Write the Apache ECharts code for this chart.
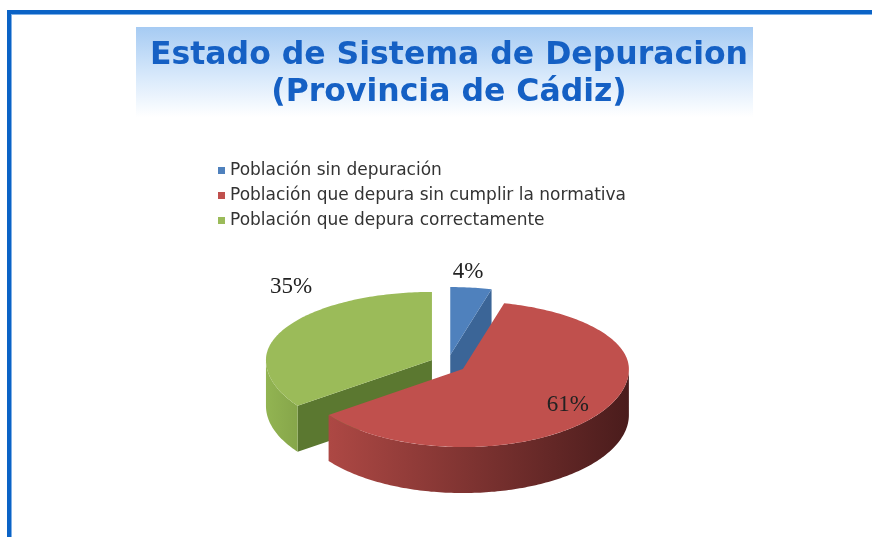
<!DOCTYPE html>
<html>
<head>
<meta charset="utf-8">
<script src="https://cdn.jsdelivr.net/npm/echarts@6/dist/echarts.min.js"></script>
<style>html,body{margin:0;padding:0;background:#fff}#c{width:872px;height:537px}</style>
</head>
<body>
<div id="c"></div>
<script>
// ---- data ----
const categories = ['Población sin depuración', 'Población que depura sin cumplir la normativa', 'Población que depura correctamente'];
const values = [4, 61, 35];
const titleLines = ['Estado de Sistema de Depuracion', '(Provincia de Cádiz)'];

// ---- styles ----
const topColors = ['#4f81bd', '#c0504d', '#9bbb59'];
const sideColors = ['#3b6597', '#7a2d2b', '#5b7830'];
const wallColors = [['#4a78b0', '#2e4f78'], ['#ad4844', '#4a1c1c'], ['#92b452', '#86a64a']];
const labelCfg = [{rf: 1, dx: -3, dy: -16}, {rf: 0.75, dx: 2, dy: 3}, {rf: 1, dx: 7, dy: -42}];
const G = {cx: 448, cy: 364, rx: 166, ryBack: 68, ryFront: 78, depth: 46, ex: 18, ey: 9};

const total = values.reduce((a, b) => a + b, 0);
const D2R = Math.PI / 180;
function pt(ax, ay, deg, r) {
  const s = Math.sin(deg * D2R), c = Math.cos(deg * D2R);
  return [ax + G.rx * r * s, ay - c * r * (c > 0 ? G.ryBack : G.ryFront)];
}
function arc(ax, ay, a0, a1, dy) {
  const pts = [];
  const n = Math.max(2, Math.ceil((a1 - a0) / 1));
  for (let k = 0; k <= n; k++) {
    const p = pt(ax, ay, a0 + (a1 - a0) * k / n, 1);
    pts.push([p[0], p[1] + (dy || 0)]);
  }
  return pts;
}

function makeRender(i) {
  return function (params, api) {
    let cum = 0;
    for (let j = 0; j < i; j++) cum += values[j];
    const v = api.value(0);
    const a0 = 360 * cum / total, a1 = a0 + 360 * v / total, mid = (a0 + a1) / 2;
    const ax = G.cx + Math.sin(mid * D2R) * G.ex;
    const ay = G.cy - Math.cos(mid * D2R) * G.ey;
    const d = G.depth;
    const base = Math.round((1 - Math.cos(mid * D2R)) * 10) * 10;
    const children = [];
    // radial faces
    [[a0, Math.sin(a0 * D2R) < -1e-6], [a1, Math.sin(a1 * D2R) > 1e-6]].forEach(function (e) {
      if (!e[1]) return;
      const p = pt(ax, ay, e[0], 1);
      children.push({
        type: 'polygon', z2: base + 1,
        shape: {points: [[ax, ay], p, [p[0], p[1] + d], [ax, ay + d]]},
        style: {fill: sideColors[i]}
      });
    });
    // outer wall
    const w0 = Math.max(a0, 90), w1 = Math.min(a1, 270);
    if (w1 > w0) {
      const topArc = arc(ax, ay, w0, w1, 0);
      const botArc = arc(ax, ay, w0, w1, d).reverse();
      children.push({
        type: 'polygon', z2: base + 2,
        shape: {points: topArc.concat(botArc)},
        style: {fill: new echarts.graphic.LinearGradient(0, 0, 1, 0, [
          {offset: 0, color: wallColors[i][0]}, {offset: 1, color: wallColors[i][1]}])}
      });
    }
    // top face
    children.push({
      type: 'polygon', z2: base + 3,
      shape: {points: [[ax, ay]].concat(arc(ax, ay, a0, a1, 0))},
      style: {fill: topColors[i]}
    });
    // label
    const lc = labelCfg[i];
    const lp = pt(ax, ay, mid, lc.rf);
    children.push({
      type: 'text', z2: 200,
      style: {
        text: Math.round(v / total * 100) + '%',
        x: lp[0] + lc.dx, y: lp[1] + lc.dy,
        fill: '#222222', font: '23px "Liberation Serif"',
        align: 'center', verticalAlign: 'middle'
      }
    });
    return {type: 'group', children: children};
  };
}

const chart = echarts.init(document.getElementById('c'), null, {renderer: 'canvas'});
chart.setOption({
  backgroundColor: '#ffffff',
  animation: false,
  title: {
    text: titleLines.join('\n'),
    left: 444, top: 32, textAlign: 'center',
    textStyle: {fontFamily: 'DejaVu Sans', fontWeight: 'bold', fontSize: 31.5, color: '#1560c4', lineHeight: 37}
  },
  legend: {
    orient: 'vertical', left: 213, top: 157,
    itemWidth: 7, itemHeight: 7, itemGap: 8, icon: 'rect',
    selectedMode: false,
    textStyle: {fontFamily: 'DejaVu Sans', fontSize: 17, color: '#333333', lineHeight: 17},
    data: categories
  },
  graphic: [
    {type: 'rect', z: -10, shape: {x: 136, y: 27, width: 617, height: 90},
      style: {fill: new echarts.graphic.LinearGradient(0, 0, 0, 1, [
        {offset: 0, color: '#a6cbf3'}, {offset: 0.55, color: '#d8e9fb'}, {offset: 1, color: '#ffffff'}])}},
    {type: 'rect', z: 10, shape: {x: 7, y: 10, width: 865, height: 4}, style: {fill: '#0b63c6'}},
    {type: 'rect', z: 10, shape: {x: 7, y: 14, width: 865, height: 1}, style: {fill: '#7fb0e6'}},
    {type: 'rect', z: 10, shape: {x: 7, y: 10, width: 4, height: 527}, style: {fill: '#0b63c6'}},
    {type: 'rect', z: 10, shape: {x: 11, y: 14, width: 1, height: 523}, style: {fill: '#7fb0e6'}}
  ],
  series: categories.map(function (name, i) {
    return {
      type: 'custom', name: name, coordinateSystem: 'none',
      itemStyle: {color: topColors[i]},
      renderItem: makeRender(i),
      data: [[values[i]]],
      silent: true
    };
  })
});
</script>
</body>
</html>
